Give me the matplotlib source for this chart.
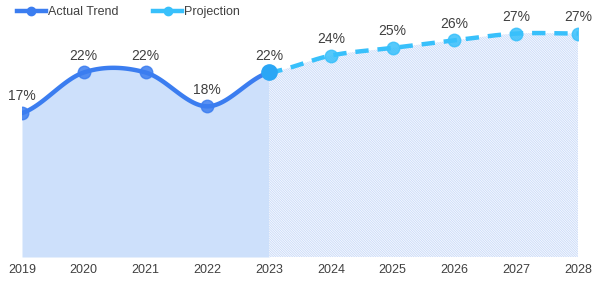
import numpy as np
import matplotlib.pyplot as plt
from matplotlib.lines import Line2D

# data
years = [2019, 2020, 2021, 2022, 2023, 2024, 2025, 2026, 2027, 2028]
actual_years = [2019, 2020, 2021, 2022, 2023]
actual_vals = [17.0, 21.8, 21.8, 17.8, 21.8]
proj_years = [2023, 2024, 2025, 2026, 2027, 2028]
proj_vals = [21.8, 23.8, 24.7, 25.6, 26.4, 26.4]
actual_labels = ['17%', '22%', '22%', '18%', '22%']
proj_labels = ['24%', '25%', '26%', '27%', '27%']

c_actual = '#3b7df0'
c_proj = '#38c0fb'
c_fill = '#cde0fb'
c_text = '#404040'


def smooth(xs, ys, n=30):
    # catmull-rom style smoothing like excel "smoothed line"
    xs = np.asarray(xs, float)
    ys = np.asarray(ys, float)
    px = np.concatenate([[2 * xs[0] - xs[1]], xs, [2 * xs[-1] - xs[-2]]])
    py = np.concatenate([[ys[0]], ys, [ys[-1]]])
    ox, oy = [], []
    for i in range(1, len(px) - 2):
        t = np.linspace(0, 1, n, endpoint=False)
        p0, p1, p2, p3 = [np.array([px[j], py[j]]) for j in range(i - 1, i + 3)]
        b1 = p1 + (p2 - p0) / 6
        b2 = p2 - (p3 - p1) / 6
        pts = ((1 - t)[:, None] ** 3 * p1 + 3 * ((1 - t) ** 2 * t)[:, None] * b1
               + 3 * ((1 - t) * t ** 2)[:, None] * b2 + (t ** 3)[:, None] * p2)
        ox.extend(pts[:, 0])
        oy.extend(pts[:, 1])
    ox.append(xs[-1])
    oy.append(ys[-1])
    return np.array(ox), np.array(oy)


plt.rcParams['font.family'] = ['Liberation Sans', 'DejaVu Sans']
plt.rcParams['hatch.linewidth'] = 0.5
plt.rcParams['hatch.color'] = '#c3d6f8'

fig = plt.figure(figsize=(6, 2.83), dpi=100)
ax = fig.add_axes([22 / 600, 1 - 257 / 283, 556 / 600, 237 / 283])

ax_x, ax_y = smooth(actual_years, actual_vals)
pr_x, pr_y = smooth(proj_years, proj_vals)

ax.fill_between(ax_x, 0, ax_y, color=c_fill, lw=0, zorder=1)
ax.fill_between(pr_x, 0, pr_y, facecolor='#f6f9fe', hatch='\\' * 14, lw=0, zorder=1)

ax.plot(ax_x, ax_y, color=c_actual, lw=3.2, zorder=3, solid_capstyle='round')
ax.plot(pr_x, pr_y, color=c_proj, lw=3.2, ls=(0, (3, 2)), zorder=3)
ax.plot(actual_years, actual_vals, 'o', color=c_actual, ms=9, alpha=0.85, zorder=4)
ax.plot(proj_years[1:], proj_vals[1:], 'o', color=c_proj, ms=9, alpha=0.85, zorder=4)
ax.plot(proj_years[:1], proj_vals[:1], 'o', color='#2aa6f5', ms=11, zorder=5)

for x, v, s in zip(actual_years, actual_vals, actual_labels):
    ax.annotate(s, (x, v), xytext=(0, 7), textcoords='offset points',
                ha='center', va='bottom', fontsize=10, color=c_text)
for x, v, s in zip(proj_years[1:], proj_vals[1:], proj_labels):
    ax.annotate(s, (x, v), xytext=(0, 7), textcoords='offset points',
                ha='center', va='bottom', fontsize=10, color=c_text)

ax.set_xlim(years[0], years[-1])
ax.set_ylim(0, 28)
ax.set_xticks(years)
ax.set_xticklabels([str(y) for y in years])
ax.tick_params(axis='x', length=0, labelsize=9, colors=c_text, pad=5)
ax.set_yticks([])
for sp in ax.spines.values():
    sp.set_visible(False)

handles = [Line2D([], [], color=c_actual, lw=3.2, marker='o', ms=6),
           Line2D([], [], color=c_proj, lw=3.2, marker='o', ms=6)]
fig.legend(handles, ['Actual Trend', 'Projection'], loc='upper left',
           bbox_to_anchor=(17 / 600, 1 - 6 / 283), ncol=2, frameon=False,
           fontsize=9, borderpad=0, borderaxespad=0,
           handlelength=2.3, handletextpad=0.15, columnspacing=2.8,
           labelcolor=c_text)

fig.savefig('out.png', dpi=100)
